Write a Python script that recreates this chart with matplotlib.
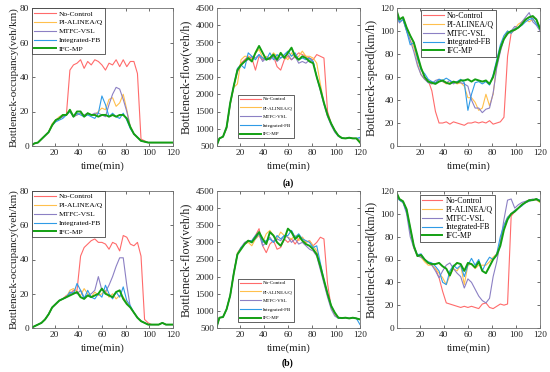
import numpy as np
import matplotlib.pyplot as plt

plt.rcParams['font.family'] = ['Liberation Serif', 'DejaVu Serif']

# time axis, one sample every 3 minutes
t = np.arange(0, 121, 3)

methods = ['No-Control', 'PI-ALINEA/Q', 'MTFC-VSL', 'Integrated-FB', 'IFC-MP']
colors = ['#ff6b6b', '#ffc04d', '#8c80c4', '#2f9be6', '#13a013']
widths = [0.8, 0.8, 0.8, 0.8, 1.4]

# ---- scenario (a) ----
occ_a_nc = [0, 1.5, 2, 4, 6, 8, 12, 15, 16, 17, 18, 44, 47, 48, 50, 45, 49, 47, 50, 49,
            47, 44, 48, 47, 50, 46, 50, 46, 49, 49, 42, 4, 3, 2, 2, 2, 2, 2, 2, 2, 2]
occ_a_pi = [0, 1.5, 2, 4, 6, 8, 13, 15, 17, 18, 18, 20, 17, 18, 19, 17, 19, 18, 18, 20,
            22, 21, 27, 28, 23, 25, 30, 21, 11, 7, 5, 3, 2.5, 2, 2, 2, 2, 2, 2, 2, 2]
occ_a_vsl = [0, 1.5, 2, 4, 6, 8, 12, 15, 16, 17, 18, 20, 17, 18, 19, 18, 19, 18, 19, 19,
             18, 17, 24, 30, 34, 33, 27, 20, 11, 7, 5, 3, 2.5, 2, 2, 2, 2, 2, 2, 2, 2]
occ_a_fb = [0, 1.5, 2, 4, 6, 8, 12, 14, 15, 16, 18, 20, 17, 19, 18, 17, 18, 17, 16, 19,
            29, 24, 17, 19, 17, 16, 19, 15, 10, 7, 5, 3, 2.5, 2, 2, 2, 2, 2, 2, 2, 2]
occ_a_mp = [0, 1.5, 2, 4, 6, 8, 12, 15, 16, 18, 18, 21, 17, 20, 20, 17, 19, 18, 18, 17,
            18, 18, 17, 18, 17, 18, 18, 16, 11, 7, 5, 3, 2.5, 2, 2, 2, 2, 2, 2, 2, 2]

flow_a_nc = [450, 720, 770, 1050, 1750, 2250, 2700, 2900, 3000, 3100, 3050, 2700, 3100, 3000,
             3050, 3000, 3100, 2800, 2700, 3000, 3100, 3000, 3100, 3200, 3150, 3100, 3050,
             3000, 3150, 3100, 3050, 1500, 1150, 950, 800, 730, 720, 740, 720, 720, 600]
flow_a_pi = [450, 720, 770, 1000, 1700, 2200, 2300, 3000, 3100, 3100, 3000, 3200, 3300, 3050,
             3100, 3050, 3200, 3100, 3150, 3100, 3000, 3200, 3050, 3100, 3250, 3100, 3100,
             3050, 2900, 2300, 1750, 1400, 1150, 950, 800, 730, 720, 740, 720, 720, 650]
flow_a_vsl = [450, 720, 770, 1000, 1700, 2250, 2650, 2850, 2950, 3000, 3100, 3050, 3150, 2950,
              3050, 3000, 3100, 2950, 3050, 3100, 3150, 3000, 3100, 2900, 2950, 2900, 3000,
              2950, 2500, 2100, 1700, 1350, 1100, 900, 780, 720, 720, 740, 720, 720, 700]
flow_a_fb = [450, 720, 770, 1050, 1750, 2250, 2750, 2850, 2750, 3200, 3100, 3000, 3150, 3050,
             3000, 3200, 3000, 3150, 3050, 3150, 3250, 3100, 3200, 3000, 3050, 3000, 3050,
             2950, 2500, 2150, 1750, 1400, 1150, 950, 800, 730, 720, 740, 720, 720, 750]
flow_a_mp = [450, 720, 770, 1050, 1750, 2250, 2700, 2850, 2950, 3050, 2950, 3200, 3400, 3200,
             3000, 3050, 3150, 3000, 3200, 3050, 3200, 3350, 3100, 3000, 3100, 3050, 2950,
             2900, 2500, 2150, 1750, 1400, 1150, 950, 800, 730, 720, 740, 720, 720, 600]

spd_a_nc = [120, 110, 112, 103, 96, 90, 78, 68, 60, 57, 48, 30, 20, 20, 21, 19, 21, 20, 19, 18,
            20, 20, 21, 20, 21, 20, 22, 19, 20, 21, 25, 78, 98, 101, 103, 106, 110, 112, 112, 110, 103]
spd_a_pi = [118, 108, 110, 100, 92, 86, 72, 62, 58, 56, 54, 55, 58, 56, 54, 55, 56, 54, 55, 52,
            42, 42, 38, 31, 33, 45, 35, 45, 70, 83, 95, 100, 98, 102, 106, 108, 110, 108, 110, 107, 102]
spd_a_vsl = [115, 107, 110, 100, 92, 82, 70, 62, 58, 55, 54, 57, 58, 56, 55, 57, 54, 56, 55, 54,
             52, 40, 33, 33, 29, 32, 33, 46, 68, 82, 93, 97, 100, 104, 103, 108, 112, 116, 108, 105, 100]
spd_a_fb = [117, 108, 110, 100, 88, 90, 76, 66, 63, 58, 56, 55, 58, 57, 59, 57, 55, 56, 58, 55,
            31, 45, 55, 56, 54, 56, 53, 62, 75, 88, 96, 100, 98, 102, 103, 105, 108, 110, 111, 106, 102]
spd_a_mp = [120, 110, 112, 103, 96, 90, 79, 68, 60, 56, 55, 54, 56, 57, 55, 54, 56, 55, 57, 57,
            58, 56, 58, 57, 56, 57, 54, 60, 72, 85, 93, 98, 100, 101, 103, 106, 110, 112, 113, 110, 102]

# ---- scenario (b) ----
occ_b_nc = [0, 1, 2, 3, 5, 8, 12, 14, 16, 17, 19, 20, 22, 22, 42, 47, 49, 51, 52, 50,
            50, 49, 46, 50, 49, 45, 54, 53, 49, 48, 50, 42, 5, 3, 2, 2, 2, 3, 2, 2, 2]
occ_b_pi = [0, 1, 2, 3, 5, 8, 12, 14, 16, 17, 18, 22, 23, 21, 19, 23, 20, 18, 21, 19,
            20, 22, 18, 20, 17, 19, 18, 15, 12, 9, 6, 4, 3, 2, 2, 2, 2, 3, 2, 2, 2]
occ_b_vsl = [0, 1, 2, 3, 5, 8, 12, 14, 16, 17, 18, 20, 21, 20, 22, 18, 19, 20, 22, 30,
             22, 21, 25, 30, 36, 41, 41, 25, 12, 9, 6, 4, 3, 2, 2, 2, 2, 3, 2, 2, 2]
occ_b_fb = [0, 1, 2, 3, 5, 8, 12, 14, 16, 17, 18, 21, 20, 26, 22, 17, 22, 18, 17, 20,
            18, 25, 20, 17, 21, 18, 24, 16, 13, 9, 6, 4, 3, 2, 2, 2, 2, 3, 2, 2, 2]
occ_b_mp = [0, 1, 2, 3, 5, 8, 12, 14, 16, 17, 18, 19, 20, 21, 18, 17, 19, 18, 19, 20,
            23, 20, 19, 18, 21, 22, 17, 14, 12, 9, 6, 4, 3, 2, 2, 2, 2, 3, 2, 2, 2]

flow_b_nc = [450, 800, 820, 1050, 1450, 2100, 2650, 2850, 2950, 3050, 3050, 3200, 3400, 2900,
             2700, 2950, 3050, 2800, 2850, 3100, 3000, 3100, 2950, 3100, 3150, 3000, 3050,
             2900, 3000, 3150, 3100, 1800, 1100, 900, 800, 790, 800, 780, 800, 780, 750]
flow_b_pi = [450, 800, 820, 1050, 1450, 2100, 2700, 2850, 2950, 3000, 2900, 3100, 3200, 3000,
             3250, 3350, 3200, 3100, 3300, 3200, 3150, 3100, 3200, 3050, 3150, 3000, 3050,
             2900, 2750, 2300, 1850, 1450, 1100, 900, 800, 790, 800, 780, 800, 780, 750]
flow_b_vsl = [450, 800, 820, 1050, 1450, 2150, 2650, 2850, 3000, 3050, 3050, 3100, 3250, 2900,
              3000, 3150, 3000, 3100, 3050, 3200, 3150, 3000, 3100, 2950, 3000, 2900, 2800,
              2750, 2600, 2200, 1800, 1400, 1050, 850, 780, 790, 800, 780, 800, 780, 750]
flow_b_fb = [450, 800, 820, 1050, 1450, 2100, 2650, 2850, 2950, 3050, 3050, 3200, 3300, 3000,
             3050, 3100, 3000, 3200, 3100, 3200, 3200, 3350, 3150, 3250, 3100, 3050, 3000,
             2850, 2900, 2400, 1900, 1500, 1150, 950, 800, 790, 800, 780, 800, 780, 600]
flow_b_mp = [450, 800, 820, 1050, 1450, 2100, 2650, 2800, 2950, 3050, 3000, 3150, 3300, 3100,
             2950, 3300, 3200, 3000, 2900, 3100, 3400, 3300, 3100, 3200, 3050, 2950, 2900,
             2800, 2650, 2300, 1900, 1500, 1150, 950, 800, 790, 800, 780, 800, 780, 750]

spd_b_nc = [120, 113, 111, 104, 88, 72, 63, 64, 60, 57, 55, 52, 44, 32, 22, 21, 20, 19, 18, 19,
            18, 19, 18, 17, 21, 22, 18, 17, 19, 21, 20, 21, 98, 102, 105, 108, 110, 112, 112, 113, 111]
spd_b_pi = [118, 112, 110, 102, 85, 70, 64, 62, 58, 55, 55, 52, 48, 44, 38, 46, 52, 50, 55, 38,
            55, 56, 52, 55, 55, 55, 58, 62, 65, 75, 90, 97, 100, 103, 105, 108, 110, 111, 112, 112, 110]
spd_b_vsl = [117, 112, 110, 100, 80, 70, 63, 62, 60, 57, 55, 50, 44, 50, 55, 57, 52, 48, 45, 35,
             43, 40, 34, 28, 24, 22, 26, 45, 58, 75, 95, 112, 113, 105, 108, 110, 111, 112, 113, 112, 112]
spd_b_fb = [118, 112, 110, 102, 86, 72, 64, 65, 60, 58, 57, 54, 50, 40, 38, 50, 55, 52, 55, 45,
            55, 61, 55, 60, 50, 57, 62, 60, 65, 80, 90, 97, 100, 103, 105, 107, 110, 111, 112, 113, 112]
spd_b_mp = [120, 113, 111, 104, 88, 72, 63, 64, 60, 57, 56, 56, 57, 54, 52, 46, 54, 57, 56, 50,
            57, 56, 53, 58, 50, 48, 54, 60, 64, 72, 86, 95, 100, 102, 105, 108, 110, 112, 112, 113, 111]

fig = plt.figure(figsize=(5.5, 3.72), dpi=100)

W, H = 550.0, 372.0


def panel(px, series, ylim, yticks, ylabel, ylsize, ylx, leg):
    left, top, right, bottom = px
    ax = fig.add_axes([left / W, 1 - bottom / H, (right - left) / W, (bottom - top) / H])
    for y, c, lw, m in zip(series, colors, widths, methods):
        ax.plot(t, y, color=c, lw=lw, label=m)
    ax.set_xlim(1, 120)
    ax.set_ylim(*ylim)
    ax.set_xticks([20, 40, 60, 80, 100, 120])
    ax.set_yticks(yticks)
    ax.tick_params(direction='in', top=True, right=True, length=2.5, width=0.5,
                   labelsize=6.7, pad=2, colors='#333333', labelcolor='#222222')
    for s in ax.spines.values():
        s.set_color('#707070')
        s.set_linewidth(0.6)
    ax.set_xlabel('time(min)', fontsize=7.8, color='#222222')
    ax.xaxis.set_label_coords(0.5, -0.115)
    ax.set_ylabel(ylabel, fontsize=ylsize, color='#222222')
    ax.yaxis.set_label_coords(ylx, 0.5)
    lg = ax.legend(loc=leg['loc'], bbox_to_anchor=leg['anchor'], fontsize=leg['size'],
                   handlelength=leg['hl'], labelspacing=leg['ls'], borderaxespad=0,
                   borderpad=leg['bp'], handletextpad=0.4, fancybox=False, framealpha=1)
    lg.get_frame().set_edgecolor('#222222')
    lg.get_frame().set_linewidth(0.5)
    return ax


leg_occ = dict(loc='upper left', anchor=(0, 1), size=5.4, hl=2.9, ls=0.35, bp=0.3)
leg_flow_a = dict(loc='lower left', anchor=(0.147, 0.058), size=3.6, hl=4.2, ls=0.85, bp=0.3)
leg_flow_b = dict(loc='lower left', anchor=(0.147, 0.045), size=3.6, hl=4.2, ls=0.85, bp=0.3)
leg_spd_a = dict(loc='upper left', anchor=(0.17, 0.985), size=5.7, hl=2.6, ls=0.1, bp=0.25)
leg_spd_b = dict(loc='upper left', anchor=(0.16, 0.97), size=5.7, hl=2.6, ls=0.1, bp=0.25)

panel((32, 8, 173, 146), [occ_a_nc, occ_a_pi, occ_a_vsl, occ_a_fb, occ_a_mp],
      (0, 80), [0, 20, 40, 60, 80], 'Bottleneck-occupancy(veh/km)', 8, -0.096, leg_occ)
panel((217, 8, 360, 146), [flow_a_nc, flow_a_pi, flow_a_vsl, flow_a_fb, flow_a_mp],
      (500, 4500), np.arange(500, 4501, 500), 'Bottleneck-flow(veh/h)', 8.7, -0.175, leg_flow_a)
panel((397, 8, 540, 146), [spd_a_nc, spd_a_pi, spd_a_vsl, spd_a_fb, spd_a_mp],
      (0, 120), [0, 20, 40, 60, 80, 100, 120], 'Bottleneck-speed(km/h)', 8.7, -0.133, leg_spd_a)

panel((32, 191, 173, 328), [occ_b_nc, occ_b_pi, occ_b_vsl, occ_b_fb, occ_b_mp],
      (0, 80), [0, 20, 40, 60, 80], 'Bottleneck-occupancy(veh/km)', 8, -0.096, leg_occ)
panel((217, 191, 360, 328), [flow_b_nc, flow_b_pi, flow_b_vsl, flow_b_fb, flow_b_mp],
      (500, 4500), np.arange(500, 4501, 500), 'Bottleneck-flow(veh/h)', 8.7, -0.175, leg_flow_b)
panel((397, 191, 540, 328), [spd_b_nc, spd_b_pi, spd_b_vsl, spd_b_fb, spd_b_mp],
      (0, 120), [0, 20, 40, 60, 80, 100, 120], 'Bottleneck-speed(km/h)', 8.7, -0.133, leg_spd_b)

fig.text(288 / W, 1 - 183 / H, '(a)', ha='center', va='center', fontsize=7, fontweight='bold')
fig.text(288 / W, 1 - 363 / H, '(b)', ha='center', va='center', fontsize=7, fontweight='bold')

fig.savefig('out.png', dpi=100)
